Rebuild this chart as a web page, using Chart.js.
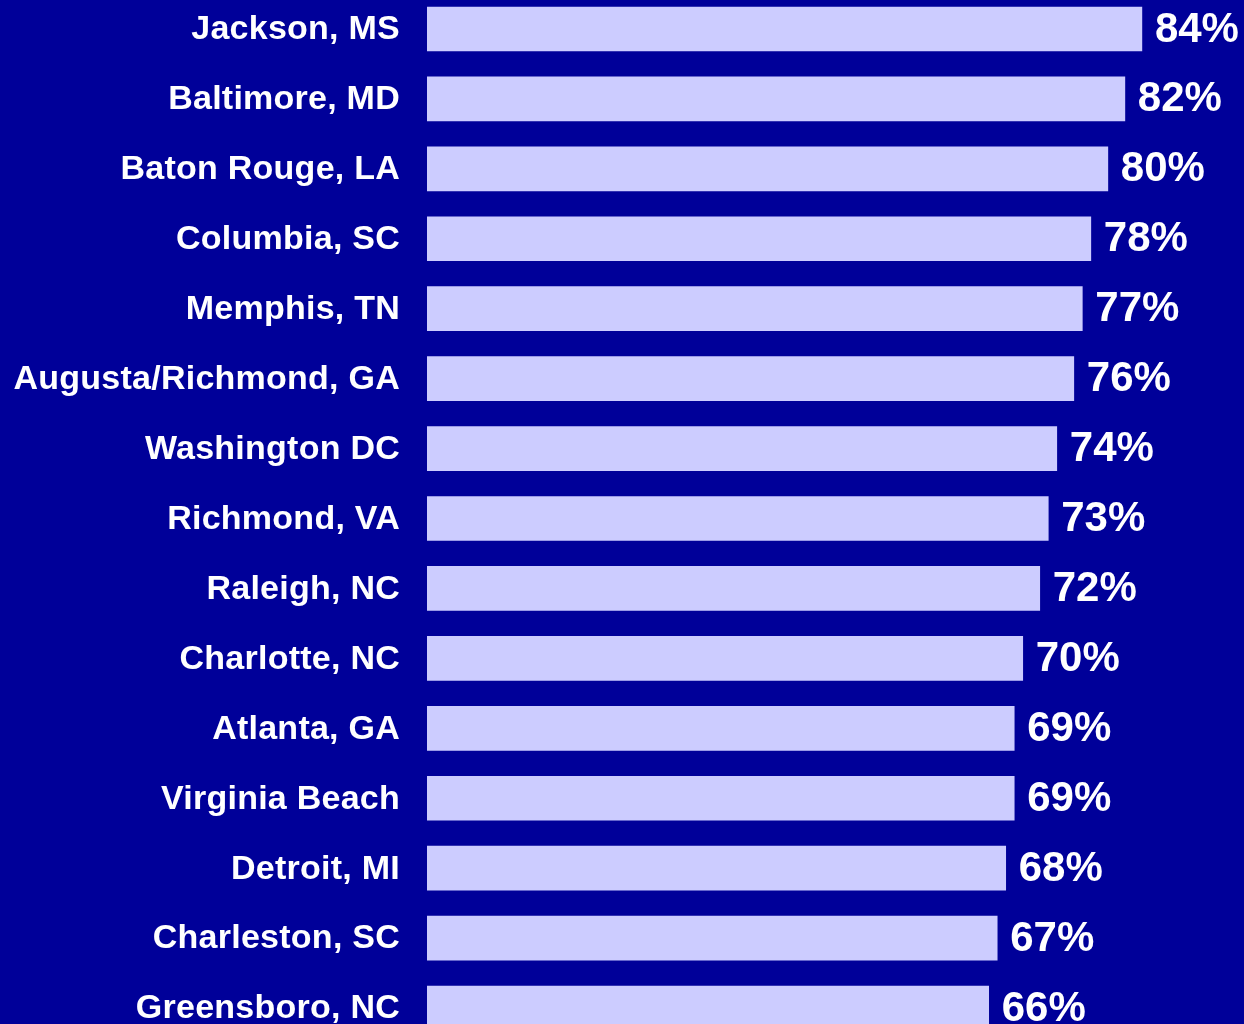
<!DOCTYPE html>
<html>
<head>
<meta charset="utf-8">
<script src="https://cdn.jsdelivr.net/npm/chart.js@4/dist/chart.umd.min.js"></script>
<style>
  html, body { margin: 0; padding: 0; background: #000099; overflow: hidden; width: 1244px; height: 1024px; }
  #wrap { position: absolute; left: 0; top: -6px; width: 1244px; height: 1049px; }
</style>
</head>
<body>
<div id="wrap"><canvas id="share-chart"></canvas></div>
<script>
// cities, top to bottom
const cities = [
  'Jackson, MS', 'Baltimore, MD', 'Baton Rouge, LA', 'Columbia, SC', 'Memphis, TN',
  'Augusta/Richmond, GA', 'Washington DC', 'Richmond, VA', 'Raleigh, NC', 'Charlotte, NC',
  'Atlanta, GA', 'Virginia Beach', 'Detroit, MI', 'Charleston, SC', 'Greensboro, NC'
];
const shares = [84, 82, 80, 78, 77, 76, 74, 73, 72, 70, 69, 69, 68, 67, 66];

// the city names are a little spread out in the original
let labelSpacing = {
  id: 'labelSpacing',
  beforeDraw(chart) {
    chart.ctx.letterSpacing = '0.25px';
  }
};

let valueLabels = {
  id: 'valueLabels',
  afterDatasetsDraw(chart) {
    let ctx = chart.ctx;
    let meta = chart.getDatasetMeta(0);
    ctx.save();
    ctx.letterSpacing = '0px';
    ctx.fillStyle = '#ffffff';
    ctx.font = 'bold 42px "Liberation Sans", Arial, sans-serif';
    ctx.textAlign = 'left';
    ctx.textBaseline = 'middle';
    meta.data.forEach((bar, i) => {
      ctx.fillText(shares[i] + '%', bar.x + 13, bar.y + 1);
    });
    ctx.restore();
  }
};

let shareCanvas = document.getElementById('share-chart');
let shareChart = new Chart(shareCanvas.getContext('2d'), {
  type: 'bar',
  data: {
    labels: cities,
    datasets: [{
      data: shares,
      backgroundColor: '#ccccff',
      borderWidth: 0,
      barThickness: 44
    }]
  },
  options: {
    indexAxis: 'y',
    responsive: true,
    maintainAspectRatio: false,
    animation: false,
    layout: { padding: 0 },
    plugins: {
      legend: { display: false },
      tooltip: { enabled: false }
    },
    scales: {
      x: {
        display: false,
        min: 0,
        max: 96
      },
      y: {
        grid: { display: false, drawTicks: false },
        border: { display: false },
        ticks: {
          color: '#ffffff',
          padding: 27,
          labelOffset: 1,
          autoSkip: false,
          font: { family: '"Liberation Sans", Arial, sans-serif', size: 34, weight: 'bold' }
        },
        afterFit(scale) {
          scale.width = 427;
          scale.paddingTop = 0;
          scale.paddingBottom = 0;
        }
      }
    }
  },
  plugins: [labelSpacing, valueLabels]
});
</script>
</body>
</html>
